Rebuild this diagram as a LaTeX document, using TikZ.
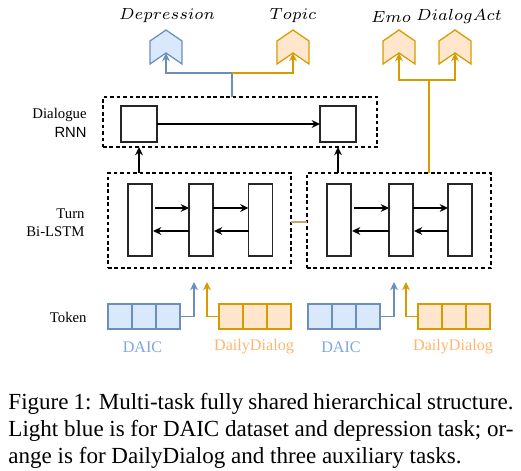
\documentclass[tikz,border=0pt]{standalone}
\usepackage{fontspec}
\setmainfont{Liberation Serif}
\newfontfamily\sansf{Liberation Sans}
\usetikzlibrary{arrows.meta,calc}
\definecolor{bluefill}{RGB}{218,232,252}
\definecolor{bluedraw}{RGB}{108,142,191}
\definecolor{orangefill}{RGB}{255,230,204}
\definecolor{orangedraw}{RGB}{215,155,0}
\definecolor{bluetext}{RGB}{126,166,224}
\definecolor{orangetext}{RGB}{255,181,112}
\definecolor{mixline}{RGB}{196,166,112}
\newcommand{\pxu}{0.434pt}
% chevron of a task: #1 centre x, #2 name of its notch, #3 style
\newcommand{\taskchev}[3]{%
\draw[#3] (#1-16,41) -- (#1,30) -- (#1+16,41) -- (#1+16,64) -- (#1,53) -- (#1-16,64) -- cycle;
\coordinate (#2) at (#1,53);}
\tikzset{
group/.style={draw,dash pattern=on 1.6pt off 1.2pt,line width=.55pt,inner sep=0pt,outer sep=0pt},
rnncell/.style={draw=black!85,line width=.55pt,fill=white,minimum width=36*\pxu,minimum height=36*\pxu,inner sep=0pt,outer sep=0pt},
lstmcell/.style={draw=black!85,line width=.55pt,fill=white,minimum width=24*\pxu,minimum height=72*\pxu,inner sep=0pt,outer sep=0pt},
daiccell/.style={draw=bluedraw,fill=bluefill,line width=.55pt,minimum width=24*\pxu,minimum height=25*\pxu,inner sep=0pt,outer sep=0pt},
ddcell/.style={draw=orangedraw,fill=orangefill,line width=.55pt,minimum width=24*\pxu,minimum height=25*\pxu,inner sep=0pt,outer sep=0pt},
bluechev/.style={draw=bluedraw,fill=bluefill,line width=.55pt},
orangechev/.style={draw=orangedraw,fill=orangefill,line width=.55pt},
flow/.style={-{Stealth[length=3.6pt,width=3.4pt]},line width=.55pt},
bluearr/.style={flow,draw=bluedraw,-{Stealth[length=3.6pt,width=3.4pt,fill=bluedraw]}},
orangearr/.style={flow,draw=orangedraw,-{Stealth[length=3.6pt,width=3.4pt,fill=orangedraw]}},
tasklbl/.style={font=\fontsize{6.8}{8}\selectfont,inner sep=0pt},
rowlbl/.style={font=\fontsize{6.4}{8}\selectfont,align=right,anchor=east,inner sep=0pt},
srclbl/.style={font=\fontsize{7}{8}\selectfont,inner sep=0pt},
caption/.style={font=\fontsize{10}{11.7}\selectfont,text width=505*\pxu,align=justify,inner sep=0pt,anchor=north west}
}
\begin{document}
\begin{tikzpicture}[x=\pxu,y=-\pxu]
\useasboundingbox (0,0) rectangle (521,471);
% tasks
\node[tasklbl] (deprlbl) at (167,16) {$Depression$};
\node[tasklbl] (topiclbl) at (293,16) {$Topic$};
\node[tasklbl] (emolbl) at (391,17) {$Emo$};
\node[tasklbl] (actlbl) at (459,16) {$DialogAct$};
\taskchev{166}{deprin}{bluechev}
\taskchev{293}{topicin}{orangechev}
\taskchev{399}{emoin}{orangechev}
\taskchev{455}{actin}{orangechev}
% dialogue rnn
\node[group,minimum width=274*\pxu,minimum height=50*\pxu] (rnnbox) at (240,122) {};
\node[rnncell] (rnnA) at (139,124) {};
\node[rnncell] (rnnB) at (338,124) {};
\draw[flow] (rnnA.east) -- (rnnB.west);
% turn bi-lstm
\node[group,minimum width=183*\pxu,minimum height=95*\pxu] (lstmL) at (199.5,220.5) {};
\node[group,minimum width=184*\pxu,minimum height=95*\pxu] (lstmR) at (399,220.5) {};
\foreach \s/\a/\b/\c in {L/140/201/260.5,R/339/401/460}{
  \node[lstmcell] (\s1) at (\a,220) {};
  \node[lstmcell] (\s2) at (\b,220) {};
  \node[lstmcell] (\s3) at (\c,220) {};
  \draw[flow] ($(\s1.east)+(3,-12)$) -- ($(\s2.west)+(0,-12)$);
  \draw[flow] ($(\s2.east)+(0,-12)$) -- ($(\s3.west)+(0,-12)$);
  \draw[flow] ($(\s3.west)+(0,11)$) -- ($(\s2.east)+(1,11)$);
  \draw[flow] ($(\s2.west)+(0,11)$) -- ($(\s1.east)+(1,11)$);
}
\draw[mixline,line width=.55pt] ($(lstmL.east)+(0,1.5)$) -- ($(lstmR.west)+(0,1.5)$);
\draw[flow] (lstmL.north -| rnnA) -- (rnnbox.south -| rnnA);
\draw[flow] (lstmR.north -| rnnB) -- (rnnbox.south -| rnnB);
% outputs
\coordinate (jA) at (232,73);
\coordinate (jB) at (429,80);
\draw[bluedraw,line width=.55pt] (rnnbox.north -| jA) -- (jA);
\draw[bluearr] (jA) -| (deprin);
\draw[orangearr] (jA) -| (topicin);
\draw[black!30,line width=.5pt] ($(lstmR.north -| jB)+(.6,0)$) -- ($(jB)+(.6,0)$);
\draw[orangedraw,line width=.5pt] (lstmR.north -| jB) -- (jB);
\draw[orangearr] (jB) -| (emoin);
\draw[orangearr] (jB) -| (actin);
% tokens
\foreach \n/\xx in {daicL/108,daicR/308}
  \foreach \i in {1,2,3}
    \node[daiccell] (\n\i) at (\xx+24*\i-12,316.5) {};
\foreach \n/\xx in {ddL/219,ddR/418}
  \foreach \i in {1,2,3}
    \node[ddcell] (\n\i) at (\xx+24*\i-12,316.5) {};
\coordinate (daicLin) at (194,282);
\coordinate (ddLin) at (207,282);
\coordinate (daicRin) at (394,282);
\coordinate (ddRin) at (406,282);
\draw[bluearr] (daicL3.east) -| (daicLin);
\draw[orangearr] (ddL1.west) -| (ddLin);
\draw[bluearr] (daicR3.east) -| (daicRin);
\draw[orangearr] (ddR1.west) -| (ddRin);
\node[srclbl,text=bluetext] (daicLlbl) at (142.5,347) {DAIC};
\node[srclbl,text=orangetext] (ddLlbl) at (254,347) {DailyDialog};
\node[srclbl,text=bluetext] (daicRlbl) at (341,347) {DAIC};
\node[srclbl,text=orangetext] (ddRlbl) at (453,347) {DailyDialog};
% row labels
\node[rowlbl] (rnnlbl) at (87,123) {Dialogue\\{\sansf RNN}};
\node[rowlbl] (lstmlbl) at (85,223) {Turn\\Bi-LSTM};
\node[rowlbl] (toklbl) at (87,317) {Token};
% caption
\node[caption] (cap) at (8,393) {Figure 1: Multi-task fully shared hierarchical structure.\linebreak Light blue is for DAIC dataset and depression task; or-\linebreak ange is for DailyDialog and three auxiliary tasks.};
\end{tikzpicture}
\end{document}
